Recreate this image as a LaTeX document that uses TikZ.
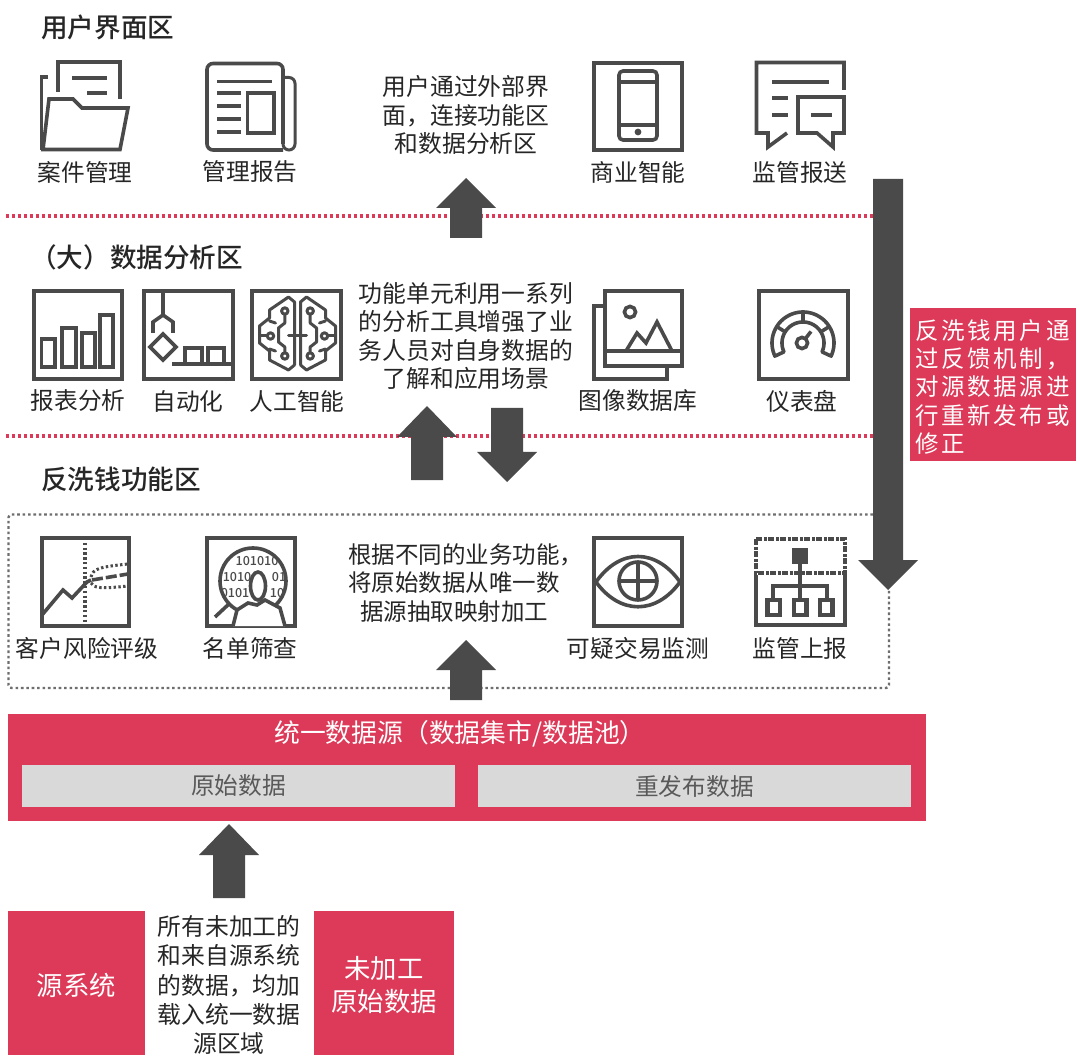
\documentclass[tikz,border=0pt]{standalone}
\usepackage{fontspec}
\setmainfont{Noto Sans CJK SC}
\newfontfamily\ttl{Noto Sans CJK SC Medium}
\usetikzlibrary{calc}
\definecolor{ink}{HTML}{4A4A4A}
\definecolor{txt}{HTML}{262626}
\definecolor{rd}{HTML}{DC3A58}
\definecolor{gbox}{HTML}{D9D9D9}
\definecolor{gtxt}{HTML}{595959}
\tikzset{
 ic/.style={draw=ink,line width=3.6pt,line join=miter},
 th/.style={draw=ink,line width=3pt,line cap=round,line join=round},
 lb/.style={text=txt,font=\fontsize{23.7}{28}\selectfont,inner sep=0pt,align=center},
 ctr/.style={text=txt,font=\fontsize{23.8}{28.6}\selectfont,inner sep=0pt,align=center},
 title/.style={text=txt,font=\fontsize{26.6}{28}\ttl,inner sep=0pt,anchor=west},
 redbox/.style={fill=rd,draw=none},
 graybox/.style={fill=gbox,draw=none},
 bigarrow/.style={fill=ink,draw=none},
 reddots/.style={draw=rd,line width=3.4pt,dash pattern=on 3pt off 3pt},
 graydots/.style={draw=ink!80,line width=2.4pt,dash pattern=on 2.6pt off 2.8pt},
 bits/.style={text=ink,inner sep=0pt,font=\fontsize{12.5}{13}\ttl},
}
\newcommand{\barrow}[5][16]{\fill[bigarrow] (#2-#1,#5) -- (#2-#1,#4) -- (#2-30,#4) -- (#2,#3) -- (#2+30,#4) -- (#2+#1,#4) -- (#2+#1,#5) -- cycle;}
\def\spc#1{\ifx#1\relax\else#1\kern2.7pt\expandafter\spc\fi}
\begin{document}
\begin{tikzpicture}[x=1pt,y=-1pt]
\useasboundingbox (0,0) rectangle (1080,1059);
\fill[white] (0,0) rectangle (1080,1059);

% separators and frame
\coordinate (s1a) at (6,216); \coordinate (s1b) at (873,216);
\coordinate (s2a) at (6,436); \coordinate (s2b) at (873,436);
\draw[reddots] (s1a) -- (s1b);
\draw[reddots] (s2a) -- (s2b);
\draw[graydots,rounded corners=3pt] (873,514.5) -- (8.5,514.5) -- (8.5,688) -- (889,688) -- (889,590);

% titles
\node[title] (t1) at (41,27) {用户界面区};
\node[title] (t2) at (30,257) {（大）数据分析区};
\node[title] (t3) at (41,479) {反洗钱功能区};

% --- folder
\draw[ic] (48,77) -- (41.5,77) -- (41.5,150);
\draw[ic] (58,92) -- (58,62) -- (120,62) -- (120,99);
\draw[ic] (72,78) -- (107,78);
\draw[ic] (87,93) -- (107,93);
\draw[ic] (43,149.5) -- (49,99) -- (73,99) -- (82,108) -- (128,108) -- (120,149.5) -- cycle;
% --- newspaper
\draw[ic,rounded corners=6pt] (283,150) -- (207,150) -- (207,63.5) -- (283,63.5) -- (283,144);
\draw[ic,line width=3pt,rounded corners=6pt] (284,77.5) -- (295,77.5) -- (295,150) -- (283,150) -- (283,140);
\draw[ic,line width=3pt] (217,82) -- (272,82);
\draw[ic] (217,93) -- (241,93); \draw[ic] (217,106) -- (241,106); \draw[ic] (217,119) -- (241,119); \draw[ic] (217,132) -- (241,132);
\draw[ic] (247.5,93) rectangle (274,133);
% --- phone
\draw[ic] (594,63) rectangle (682,150);
\draw[ic,rounded corners=4pt] (619,71) rectangle (657,140);
\draw[ic] (619,82) -- (657,82); \draw[ic] (619,125) -- (657,125);
\fill[ink] (638,132) circle (3.4);
% --- chat
\draw[ic] (844,90) -- (844,62.5) -- (756.5,62.5) -- (756.5,133) -- (768,133) -- (768,147) -- (787,133);
\draw[ic] (772,82) -- (829,82); \draw[ic] (772,98) -- (788,98); \draw[ic] (772,115) -- (788,115);
\draw[ic] (844,97) -- (798,97) -- (798,133) -- (817,133) -- (833,147) -- (833,133) -- (844,133) -- cycle;
\draw[ic] (811,115) -- (832,115);

% labels row 1
\node[lb] (l1) at (85,172) {案件管理};
\node[lb] (l2) at (250,172) {管理报告};
\node[lb] (l3) at (638,172) {商业智能};
\node[lb] (l4) at (800,172) {监管报送};
\node[ctr] (c1) at (466,115) {用户通过外部界\\面，连接功能区\\和数据分析区};

% --- bars
\draw[ic] (34,291) rectangle (122,379);
\draw[ic] (41.5,339) rectangle (55,367); \draw[ic] (62,328) rectangle (76,367);
\draw[ic] (82,333) rectangle (95,367); \draw[ic] (100,315) rectangle (113,367);
% --- automation
\draw[ic] (144,291) rectangle (233,379);
\draw[ic] (163,291) -- (163,315);
\draw[ic] (153,333) -- (153,322) -- (163,315) -- (173,322) -- (173,333);
\draw[ic] (163,334) -- (176,347) -- (163,360) -- (150,347) -- cycle;
\draw[ic] (172,364) -- (233,364);
\draw[ic] (185,364) -- (185,348) -- (202,348) -- (202,364);
\draw[ic] (208,364) -- (208,348) -- (224,348) -- (224,364);
% --- brain
\draw[ic] (252,291) rectangle (341,379);
\begin{scope}[shift={(297.5,0)}]
 \foreach \s in {-1,1}{
 \begin{scope}[xscale=\s]
  \draw[th] (3,365) -- (3,302) -- (9,297) -- (28,310) -- (28,318) -- (38,326) -- (38,343) -- (28,351) -- (28,360) -- (9,370) -- (3,365);
  \draw[th] (12.7,311) circle (3.2);
  \draw[th] (12.7,314.5) -- (12.7,323) -- (19,328) -- (19,342) -- (12.7,347) -- (12.7,352.5);
  \draw[th] (12.7,356) circle (3.2);
  \draw[th] (27,336) circle (3.2);
  \draw[th] (38,336) -- (30.5,336);
  \draw[th] (28,321) -- (22,323);
  \draw[th] (28,349) -- (22,351);
 \end{scope}}
 \draw[th] (-9,336) -- (9,336);
\end{scope}
% --- image
\draw[ic] (605,306) -- (594,306) -- (594,379) -- (667,379) -- (667,366);
\draw[ic] (605,291) rectangle (682,366);
\draw[ic] (605,351) -- (682,351);
\draw[ic] (630,312) circle (5.6);
\draw[ic] (626,351) -- (637,333) -- (646,343) -- (657,322) -- (672,351);
% --- gauge
\draw[ic] (759,291) rectangle (848,379);
\draw[ic,line join=round] plot[domain=155:385,samples=50] ({803+31*cos(\x)},{343+31*sin(\x)}) -- plot[domain=385:155,samples=50] ({803+21*cos(\x)},{343+21*sin(\x)}) -- cycle;
\draw[ic] (803,322) -- (803,312);
\draw[ic] ({803+21*cos(328)},{343+21*sin(328)}) -- ({803+31*cos(328)},{343+31*sin(328)});
\draw[ic] ({803+21*cos(212)},{343+21*sin(212)}) -- ({803+31*cos(212)},{343+31*sin(212)});
\draw[ic] (802,343) circle (5.6);
\draw[ic] (805.5,338.5) -- (811,331.5);

\node[lb] (l5) at (78,401) {报表分析};
\node[lb] (l6) at (188,401) {自动化};
\node[lb] (l7) at (297,401) {人工智能};
\node[lb] (l8) at (638,401) {图像数据库};
\node[lb] (l9) at (802,401) {仪表盘};
\node[ctr] (c2) at (466,336) {功能单元利用一系列\\的分析工具增强了业\\务人员对自身数据的\\了解和应用场景};

% --- chart
\draw[ic] (42,538) rectangle (129,626);
\draw[ic,dash pattern=on 2.4pt off 2.4pt] (85,538) -- (85,626);
\draw[ic] (42,615) -- (63,590) -- (72,598) -- (87,582) -- (91,580);
\draw[ic,dash pattern=on 11pt off 3pt] (92,580) -- (128,574);
\draw[ic,line width=3pt,dash pattern=on 2.4pt off 2.4pt] (91,577) .. controls (93,569) and (98,567) .. (128,564);
\draw[ic,line width=3pt,dash pattern=on 2.4pt off 2.4pt] (91,583) .. controls (94,588) and (100,589) .. (128,586);
% --- person
\draw[ic] (207,538) rectangle (295,626);
\begin{scope}
 \clip (253,581) circle (33);
 \node[bits] (b1) at (257,561) {101010};
 \node[bits] (b2) at (237,577) {1010};
 \node[bits] (b3) at (279,577) {01};
 \node[bits] (b4) at (235,593) {0101};
 \node[bits] (b5) at (277,593) {10};
\end{scope}
\draw[ic] (253,581) circle (33);
\draw[ic,fill=white] (258,586) ellipse (7.5 and 14);
\draw[ic,fill=white] (233,626) -- (237,610) -- (248,603) -- (257,605) -- (265,600) -- (280,608) -- (285,626);
\draw[ic] (215,617) -- (230,603);
% --- eye
\draw[ic] (594,538) rectangle (682,626);
\draw[ic] (596,582) .. controls (620,548) and (656,548) .. (680,582) .. controls (656,615) and (620,615) .. (596,582) -- cycle;
\draw[ic] (638,581) circle (19);
\draw[ic] (619,581) -- (657,581); \draw[ic] (638,562) -- (638,600);
% --- report
\draw[ic,line width=4.2pt,dash pattern=on 6pt off 1.5pt on 3pt off 1.5pt] (756,539) rectangle (845,573);
\draw[ic,line width=4.2pt] (756,575) -- (756,625) -- (845,625) -- (845,575);
\fill[ink] (792,548) rectangle (808,564);
\draw[ic,line width=4.2pt] (800,564) -- (800,600);
\draw[ic,line width=4.2pt] (773,600) -- (773,586) -- (827,586) -- (827,600);
\draw[ic,line width=4.6pt,fill=white] (767.5,600) rectangle (780,615);
\draw[ic,line width=4.6pt,fill=white] (794,600) rectangle (806.5,615);
\draw[ic,line width=4.6pt,fill=white] (820,600) rectangle (832.5,615);

\node[lb] (l10) at (87,648) {客户风险评级};
\node[lb] (l11) at (250,648) {名单筛查};
\node[lb] (l12) at (638,648) {可疑交易监测};
\node[lb] (l13) at (800,648) {监管上报};
\node[ctr,font=\fontsize{23.5}{28.6}\selectfont] (c3) at (454,583) {根据不同的业务功能\rlap{，}\\将原始数据从唯一数\\据源抽取映射加工};

% block arrows
\barrow{466}{178}{208}{238}
\barrow{427}{406}{437}{480}
\barrow{507}{482}{452}{408}
\barrow{466}{640}{670}{700}
\barrow{229}{824}{855}{898}
\barrow[15]{888}{590}{560}{179}

% side note
\node[redbox,minimum width=166pt,minimum height=153pt,inner sep=0pt] (note) at (993,384.5) {};
\node[text=white,font=\fontsize{23.5}{28.4}\selectfont,align=left,inner sep=0pt,anchor=west] (notet) at (915,387) {\spc 反洗钱用户通\relax\\\spc 过反馈机制，\relax\\\spc 对源数据源进\relax\\\spc 行重新发布或\relax\\\spc 修正\relax};

% unified source
\node[redbox,minimum width=918pt,minimum height=107pt,inner sep=0pt] (src) at (467,767.5) {};
\node[text=white,font=\fontsize{25.8}{28}\selectfont,inner sep=0pt] (srct) at (460,734) {统一数据源（数据集市/数据池）};
\node[graybox,minimum width=433pt,minimum height=42pt,inner sep=0pt,text=gtxt,font=\fontsize{23.7}{28}\selectfont] (raw) at (238.5,786) {原始数据};
\node[graybox,minimum width=433pt,minimum height=42pt,inner sep=0pt,text=gtxt,font=\fontsize{23.7}{28}\selectfont] (rep) at (694.5,786) {重发布数据};

% bottom
\node[redbox,minimum width=137pt,minimum height=144pt,inner sep=0pt] (sys) at (76.5,983) {};
\node[text=white,font=\fontsize{26.4}{33}\selectfont,inner sep=0pt] (syst) at (76.5,985) {源系统};
\node[redbox,minimum width=140pt,minimum height=144pt,inner sep=0pt] (unp) at (384,983) {};
\node[text=white,font=\fontsize{26.4}{33}\selectfont,inner sep=0pt,align=center] (unpt) at (384,985) {未加工\\原始数据};
\node[ctr,font=\fontsize{23.8}{29.2}\selectfont] (c4) at (229,985) {所有未加工的\\和来自源系统\\的数据，均加\\载入统一数据\\源区域};
\end{tikzpicture}
\end{document}
